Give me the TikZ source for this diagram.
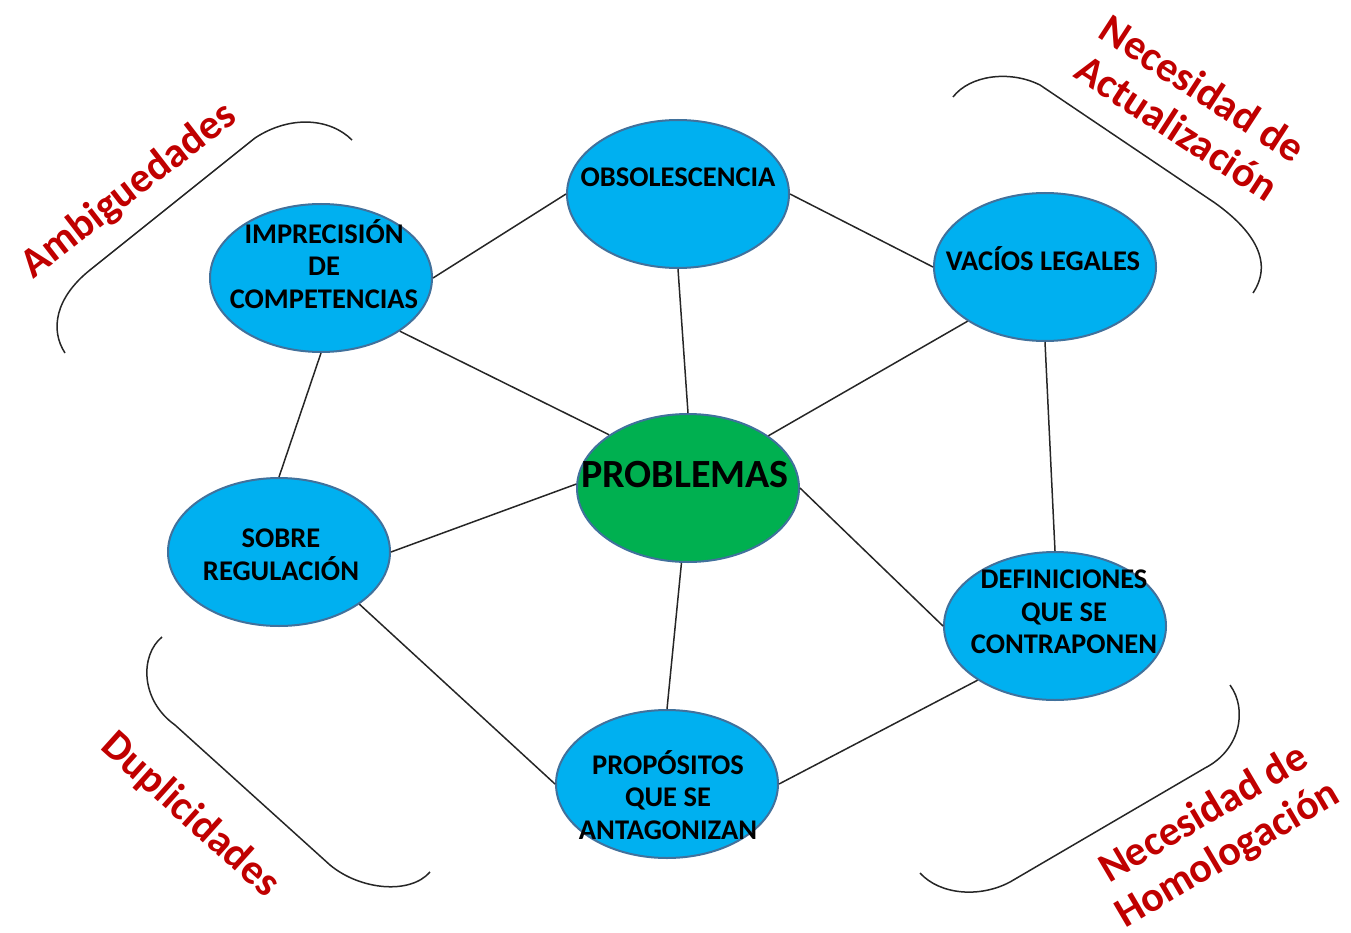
\documentclass[tikz,border=0pt]{standalone}
\usepackage{fontspec}
\setmainfont{Carlito}
\usetikzlibrary{shapes.geometric}
\definecolor{cblue}{HTML}{00B0F0}
\definecolor{cgreen}{HTML}{00B050}
\definecolor{cborder}{HTML}{41719C}
\definecolor{cred}{HTML}{C00000}
\begin{document}
\begin{tikzpicture}[x=1pt,y=-1pt,
 ell/.style={ellipse, draw=cborder, line width=2pt, minimum width=222pt, minimum height=148pt, inner sep=0pt},
 bluebox/.style={ell, fill=cblue},
 greenbox/.style={ell, fill=cgreen},
 lbl/.style={font=\bfseries\fontsize{28.5}{32.5}\selectfont, align=center, inner sep=0pt},
 biglbl/.style={font=\bfseries\fontsize{40}{46}\selectfont, align=center, inner sep=0pt},
 grp/.style={font=\bfseries\fontsize{42}{47}\selectfont, text=cred, align=center, inner sep=0pt},
 link/.style={line width=1.5pt, black!85},
 bracketline/.style={line width=1.5pt, black!85}]
\useasboundingbox (0,0) rectangle (1351,933);

% ellipses
\node[bluebox] (obs) at (678,194) {};
\node[bluebox] (imp) at (321,278) {};
\node[bluebox] (vac) at (1045,267) {};
\node[greenbox] (prob) at (688,488) {};
\node[bluebox] (sob) at (279,552) {};
\node[bluebox] (def) at (1055,626) {};
\node[bluebox] (prop) at (667,784) {};

% connectors
\draw[link] (imp.east) -- (obs.west);
\draw[link] (obs.east) -- (vac.west);
\draw[link] (obs.south) -- (prob.north);
\draw[link] (imp.-34) -- (prob.146);
\draw[link] (vac.-145) -- (prob.33);
\draw[link] (vac.south) -- (def.north);
\draw[link] (imp.south) -- (sob.north);
\draw[link] (sob.east) -- (prob.178);
\draw[link] (prob.east) -- (def.west);
\draw[link] (prob.-95) -- (prop.north);
\draw[link] (sob.-33) -- (prop.west);
\draw[link] (def.-145) -- (prop.east);

% texts
\node[lbl] (tobs) at (678,177) {OBSOLESCENCIA};
\node[lbl] (timp) at (324,264) {IMPRECISIÓN\\DE\\COMPETENCIAS};
\node[lbl] (tvac) at (1043,259) {VACÍOS LEGALES};
\node[biglbl] (tprob) at (685,475) {PROBLEMAS};
\node[lbl] (tsob) at (281,555) {SOBRE\\REGULACIÓN};
\node[lbl] (tdef) at (1064,612) {DEFINICIONES\\QUE SE\\CONTRAPONEN};
\node[lbl] (tprop) at (668,795) {PROPÓSITOS\\QUE SE\\ANTAGONIZAN};

% brackets
\draw[bracketline] (352,140) .. controls (330,118) and (290,115) .. (255,138) -- (90,270) .. controls (55,298) and (50,330) .. (65,353);
\draw[bracketline] (953,97) .. controls (970,75) and (1010,70) .. (1040,85) -- (1215,203) .. controls (1250,228) and (1275,260) .. (1253,293);
\draw[bracketline] (162,637) .. controls (140,655) and (140,700) .. (175,725) -- (330,865) .. controls (360,890) and (410,895) .. (430,872);
\draw[bracketline] (1230,685) .. controls (1248,710) and (1240,750) .. (1205,768) -- (1010,882) .. controls (980,898) and (940,895) .. (920,873);

% group labels
\node[grp, rotate=37.7] (gamb) at (129,191) {Ambiguedades};
\node[grp, rotate=-33] (gact) at (1190,108) {Necesidad de\\Actualización};
\node[grp, rotate=-42] (gdup) at (190,815) {Duplicidades};
\node[grp, rotate=30.5] (ghom) at (1216,835) {Necesidad de\\Homologación};
\end{tikzpicture}
\end{document}
